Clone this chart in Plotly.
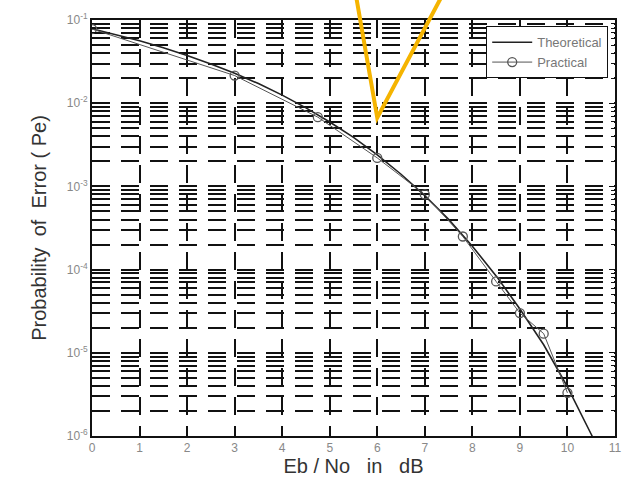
import plotly.graph_objects as go

# Theoretical curve
ebno_theory = [0, 0.5, 1, 1.5, 2, 2.5, 3, 3.5, 4, 4.5, 5, 5.5, 6, 6.5, 7, 7.5, 8, 8.5, 9, 9.5, 10, 10.5, 10.6]
pe_theory = [0.0786, 0.0671, 0.0563, 0.0464, 0.0375, 0.0296, 0.0229, 0.0172, 0.0125, 0.00878,
             0.00595, 0.00388, 0.00239, 0.00140, 0.000773, 0.000401, 0.000191, 8.4e-5,
             3.36e-5, 1.25e-5, 3.9e-6, 1.05e-6, 8.0e-7]

# Practical points
ebno_prac = [0, 3, 4.75, 6, 7, 7.8, 8.5, 9, 9.5, 10]
pe_prac = [0.078, 0.0215, 0.0068, 0.0022, 0.0008, 0.00025, 7.2e-5, 3.0e-5, 1.7e-5, 3.3e-6]

x_tickvals = list(range(0, 12))
y_tickvals = [1e-6, 1e-5, 1e-4, 1e-3, 1e-2, 1e-1]
y_ticktext = ["10<sup>-6</sup>", "10<sup>-5</sup>", "10<sup>-4</sup>",
              "10<sup>-3</sup>", "10<sup>-2</sup>", "10<sup>-1</sup>"]
y_minorvals = [m * 10 ** e for e in range(-6, -1) for m in range(2, 10)]

fig = go.Figure()
fig.add_trace(go.Scatter(
    x=ebno_theory, y=pe_theory, mode="lines", name="Theoretical",
    line=dict(color="#222222", width=1.6)))
fig.add_trace(go.Scatter(
    x=ebno_prac, y=pe_prac, mode="lines+markers", name="Practical",
    line=dict(color="#555555", width=1),
    marker=dict(symbol="circle-open", size=9, color="#555555", line=dict(width=1.3))))

grid = dict(gridcolor="#111111", gridwidth=2, griddash="18px,11px")

fig.update_layout(
    width=633, height=488,
    margin=dict(l=92, r=11, t=19, b=52),
    paper_bgcolor="white", plot_bgcolor="white",
    font=dict(family="Liberation Sans, Arial, sans-serif", color="#333333"),
    showlegend=True,
    legend=dict(x=0.987, y=0.985, xanchor="right", yanchor="top",
                bgcolor="white", bordercolor="#111111", borderwidth=1,
                font=dict(size=13, color="#777777"), tracegroupgap=0,
                itemwidth=40),
    xaxis=dict(
        range=[0, 11], tickvals=x_tickvals, ticks="inside", ticklen=6,
        tickcolor="#111111", showline=True, linecolor="#111111", linewidth=2,
        mirror="ticks", zeroline=False, showgrid=True, **grid,
        tickfont=dict(size=12, color="#888888"),
        title=dict(text="Eb / No\u00a0\u00a0\u00a0in\u00a0\u00a0\u00a0dB",
                   font=dict(size=20, color="#333333"), standoff=2)),
    yaxis=dict(
        type="log", range=[-6, -1], tickvals=y_tickvals, ticktext=y_ticktext,
        ticks="inside", ticklen=6, tickcolor="#111111", showline=True,
        linecolor="#111111", linewidth=2, mirror="ticks", zeroline=False,
        showgrid=True, **grid,
        tickfont=dict(size=12, color="#888888"),
        minor=dict(tickvals=y_minorvals, ticks="inside", ticklen=4,
                   tickcolor="#111111", showgrid=True, **grid),
        title=dict(text="Probability\u00a0\u00a0of\u00a0\u00a0Error\u00a0(\u00a0Pe)",
                   font=dict(size=20, color="#333333"), standoff=15)),
)

# Yellow pointer (V shape) annotation
fig.add_shape(type="path", xref="x", yref="paper",
              path="M 5.55 1.06 L 6.0 0.765 L 7.37 1.06",
              line=dict(color="#F5B400", width=4), layer="above")

fig.write_html("out.html", config={"displayModeBar": False},
               post_script="document.body.style.margin='0';document.body.style.overflow='hidden';")
